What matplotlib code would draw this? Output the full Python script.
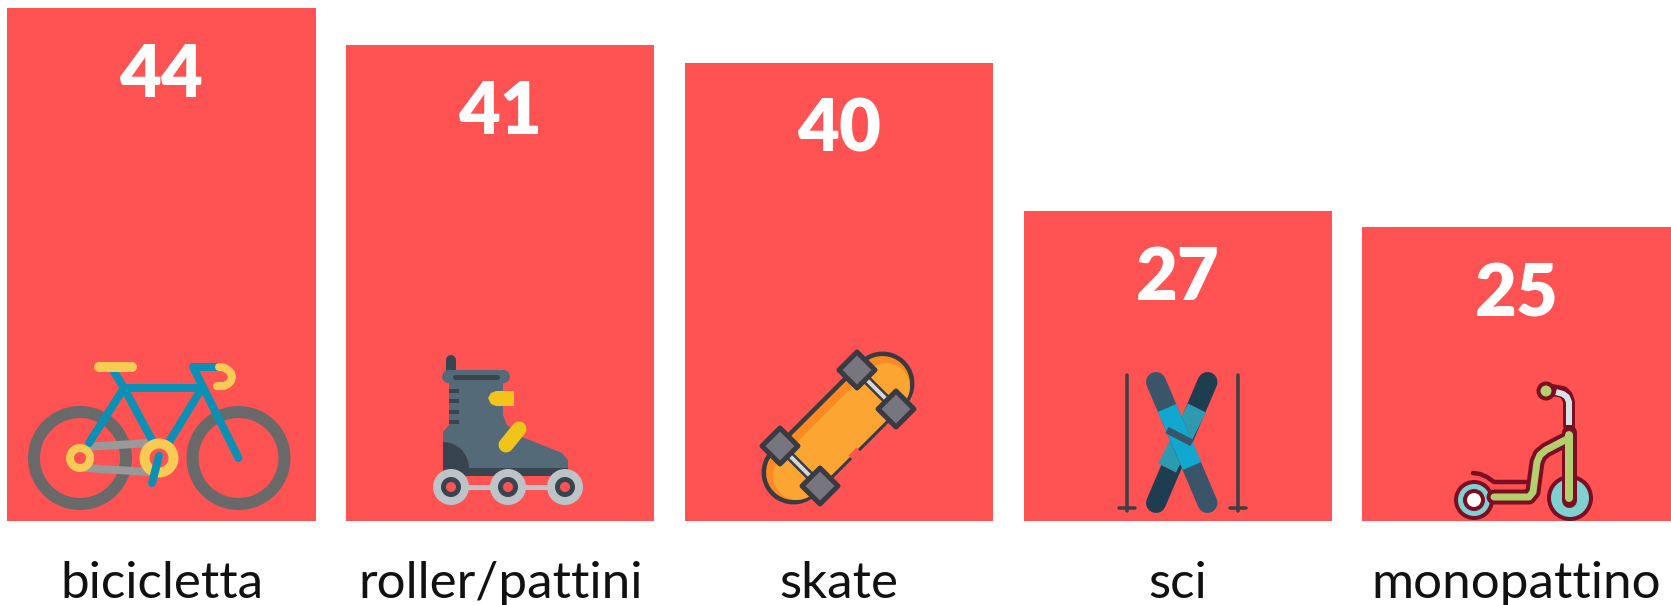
import matplotlib
matplotlib.use('Agg')
import numpy as np
import matplotlib.pyplot as plt
from matplotlib.patches import Circle, Polygon, Wedge

categorie = ['bicicletta', 'roller/pattini', 'skate', 'sci', 'monopattino']
altezze = [44, 40.85, 39.3, 26.6, 25.2]  # altezza delle barre
valori = ['44', '41', '40', '27', '25']

W, H = 1671, 605
fig = plt.figure(figsize=(W / 100, H / 100), dpi=100, facecolor='white')

# grafico a barre
ax = fig.add_axes([0, (H - 520.5) / H, 1, 512.5 / H])
x = np.arange(len(categorie))
ax.bar(x, altezze, width=0.91, color='#FF5252')
ax.set_xlim(-0.4767, 4.456)
ax.set_ylim(0, 44)
ax.set_yticks([])
ax.set_xticks(x)
ax.set_xticklabels(categorie, fontsize=36.8, family='Lato', weight='regular', color='#111111')
ax.tick_params(axis='x', length=0, pad=29)
for s in ax.spines.values():
    s.set_visible(False)

for i in range(len(x)):
    ax.annotate(valori[i], (x[i], altezze[i]), xytext=(0, -49), textcoords='offset points',
                ha='center', va='center', fontsize=52, family='Lato', weight='heavy', color='white')

# sopra: asse in pixel per le icone
ic = fig.add_axes([0, 0, 1, 1])
ic.set_xlim(0, W)
ic.set_ylim(H, 0)
ic.axis('off')
ic.patch.set_alpha(0)


def linea(pts, col, w, cap='round', z=3):
    p = np.array(pts, dtype=float)
    ic.plot(p[:, 0], p[:, 1], color=col, lw=w * 0.72, solid_capstyle=cap,
            solid_joinstyle='round', zorder=z)


def cerchio(cx, cy, r, col, bordo=None, w=0, z=3):
    ic.add_patch(Circle((cx, cy), r, fc=col, ec=bordo if bordo else 'none', lw=w * 0.72, zorder=z))


def anello(cx, cy, r, w, col, z=3):
    ic.add_patch(Circle((cx, cy), r, fc='none', ec=col, lw=w * 0.72, zorder=z))


def poli(pts, col, z=3, bordo=None, w=0):
    ic.add_patch(Polygon(pts, closed=True, fc=col, ec=bordo if bordo else 'none', lw=w * 0.72,
                         joinstyle='round', zorder=z))


# bicicletta
anello(80, 458, 46, 12, '#696969')
anello(238.5, 458, 46, 12, '#696969')
linea([(85, 447), (150, 443)], '#999999', 8, 'butt')
linea([(85, 468), (150, 472)], '#999999', 8, 'butt')
blu = '#0A90B5'
linea([(113, 370), (124, 388), (152, 440)], blu, 8)
linea([(124, 388), (89, 443)], blu, 8)
linea([(124, 388), (202, 388)], blu, 8)
linea([(202, 388), (169, 442)], blu, 8)
linea([(193, 367), (238.5, 458)], blu, 8)
linea([(191, 367), (219, 367)], blu, 8, 'butt')
linea([(99, 367), (132, 367)], '#F9CB55', 10)
linea([(219, 367), (224, 367.5), (228, 370), (231, 373), (232, 377), (231, 381), (228, 384),
       (224, 386), (217, 386)], '#F9CB55', 8)
anello(80, 458, 10, 8, '#F9CB55')
anello(159, 458, 14.5, 10, '#F9CB55')
linea([(159, 456), (152, 483)], blu, 8)

# pattino
grigio = '#546A79'
scuro = '#38454F'
linea([(451, 360), (451, 375)], scuro, 10)
poli([(449, 383), (503, 383), (503, 415), (507, 425), (522, 437), (562, 453), (568, 460),
      (568, 468), (443, 468), (443, 432), (449, 425)], grigio)
linea([(448, 376), (503, 376)], grigio, 13)
linea([(455, 377), (497, 377)], scuro, 5)
for yy in [391, 401, 412, 422]:
    linea([(449, yy), (459, yy)], scuro, 4, 'butt')
ic.add_patch(Wedge((443, 468), 26, 270, 360, fc=scuro, ec='none', zorder=4))
linea([(443, 472), (568, 472)], scuro, 8, 'butt')
poli([(514, 391), (496, 391), (491, 393), (488, 398), (491, 404), (496, 406), (514, 406)],
     '#F0C419', z=4)
linea([(506, 445), (519, 429)], '#F0C419', 15, z=4)
linea([(451, 487), (565, 487)], '#BDC3C7', 5)
for cx in [451, 508, 565]:
    cerchio(cx, 487, 18, '#BDC3C7', z=4)
    cerchio(cx, 487, 10, scuro, z=5)
    cerchio(cx, 487, 5, '#FF5252', z=6)

# skate
linea([(882.5, 383.5), (793.5, 472.5)], '#3A3A42', 64)
linea([(882.5, 383.5), (793.5, 472.5)], '#FB8A22', 55)
linea([(886, 387), (797, 476)], '#FCA532', 48)
linea([(857, 370), (896, 409)], '#3A3A42', 9, 'butt')
linea([(780, 446), (820, 486)], '#3A3A42', 9, 'butt')
linea([(857, 370), (896, 409)], '#D5D5D5', 4, 'butt', z=3.5)
linea([(780, 446), (820, 486)], '#D5D5D5', 4, 'butt', z=3.5)
linea([(851, 458), (859, 450)], '#FF5252', 7, 'butt', z=3.5)
for cx, cy in [(857, 370), (896, 409), (780, 446), (820, 486)]:
    poli([(cx, cy - 18), (cx + 18, cy), (cx, cy + 18), (cx - 18, cy)], '#77767E', z=4,
         bordo='#3A3A42', w=5)

# sci
linea([(1126.7, 375), (1126.7, 511)], '#3D3F42', 3.5)
linea([(1238, 375), (1238, 511)], '#3D3F42', 3.5)
linea([(1119, 508), (1135, 508)], '#3D3F42', 3.5)
linea([(1230, 508), (1246, 508)], '#3D3F42', 3.5)
linea([(1207.5, 382), (1156, 503)], '#1E3D50', 20)
linea([(1197, 408), (1167, 468)], '#2E9AB0', 20, 'butt')
linea([(1156, 382), (1207.5, 503)], '#3A556A', 20)
linea([(1167, 408), (1192, 466)], '#12A7CF', 20, 'butt')
linea([(1167, 430), (1192, 443)], '#3A556A', 7, 'butt')

# monopattino
bordo = '#7A0E22'
verde = '#B3CF6E'
cerchio(1570, 498, 21, '#7FD1D1', bordo, 4)
cerchio(1474, 500, 18, '#7FD1D1', bordo, 4)
cerchio(1474, 500, 9, 'white', bordo, 4)
linea([(1473, 473), (1480, 474), (1487, 477), (1494, 482), (1528, 482)], bordo, 4.5)
percorso = [(1494, 497), (1529, 497), (1533, 492), (1537, 462), (1540, 455), (1546, 450), (1569, 438)]
linea(percorso, bordo, 15, z=4)
linea([(1569, 432), (1569, 500)], bordo, 15, z=4)
linea([(1569, 425), (1569, 402), (1567, 396), (1563, 392), (1552, 390)], bordo, 12, z=4)
linea([(1569, 425), (1569, 402), (1567, 397), (1563, 394), (1556, 392)], '#D5E5E5', 6, 'butt', z=5)
linea(percorso, verde, 7, z=5)
linea([(1569, 435), (1569, 498)], verde, 8, z=5)
cerchio(1546, 391, 7.5, verde, bordo, 4, z=6)

fig.savefig('out.png', dpi=100)
